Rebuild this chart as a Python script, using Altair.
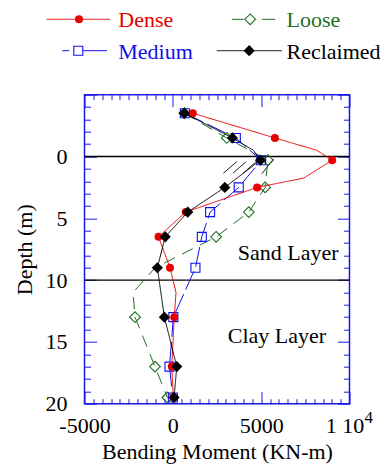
import altair as alt
import pandas as pd

# ---- data -------------------------------------------------------------
depth = [-3.5, -1.5, 0.3, 2.5, 4.5, 6.5, 9, 13, 17, 19.5]
dense = [1130, 5775, 9020, 4770, 730, -810, -160, 80, -60, 30]
medium = [680, 3565, 5000, 3730, 2110, 1640, 1280, 30, -190, 0]
loose = [650, 3055, 5380, 5225, 4300, 2450, None, -2140, -1010, -310]
reclaimed = [654, 3373, 4959, 2942, 845, -430, -876, -479, 223, 70]

# line-only bends between markers
dense_bend_depth = [-0.5, 1.75, 11]
dense_bend = [8150, 7400, 180]
medium_bend_depth = []
medium_bend = []
loose_bend_depth = [9, 11]
loose_bend = [-1000, -2250]
reclaimed_bend_depth = [-0.5]
reclaimed_bend = [4560]

layer_bounds = [0, 10]
layer_names = ["Sand Layer", "Clay Layer"]
layer_label_bm = [6530, 5890]
layer_label_depth = [8.4, 15.1]

hatch_bm = [2860, 3400, 3980, 5040]
hatch_bm2 = [3620, 4150, 4720, 5700]
hatch_depth = [1.35, 1.35, 1.35, 1.4]
hatch_depth2 = [0.42, 0.42, 0.42, 0.2]

x_label_ticks = [-5000, 0, 5000, 10000]
y_label_ticks = [0, 5, 10, 15, 20]
x_minor_ticks = list(range(-5000, 10001, 500))
y_minor_ticks = list(range(-5, 21))

# ---- styling ------------------------------------------------------------
FONT = "Liberation Serif"
BLUE_AX = "#1a1ae6"
W, H = 265, 309

styles = {
    "Dense": dict(vals=dense, bd=dense_bend_depth, bv=dense_bend, color="#e60000",
                  shape="circle", filled=True, size=64, dash=[1, 0]),
    "Medium": dict(vals=medium, bd=medium_bend_depth, bv=medium_bend, color="#1010ee",
                   shape="square", filled=False, size=81, dash=[20, 5]),
    "Loose": dict(vals=loose, bd=loose_bend_depth, bv=loose_bend, color="#1f6f1f",
                  shape="diamond", filled=False, size=115, dash=[12, 8]),
    "Reclaimed": dict(vals=reclaimed, bd=reclaimed_bend_depth, bv=reclaimed_bend, color="#000000",
                      shape="diamond", filled=True, size=125, dash=[1, 0]),
}

xs = alt.Scale(domain=[-5000, 10000], nice=False, zero=False)
ys = alt.Scale(domain=[-5, 20], nice=False, zero=False, reverse=True)

ax_x_main = alt.Axis(values=x_label_ticks,
                     labelExpr="datum.value == 10000 ? '1 10' : '' + datum.value",
                     labelOffset={"condition": {"test": "datum.value == 10000", "value": -5},
                                  "value": 0},
                     ticks=False, tickSize=0, domain=False, grid=False,
                     labelFont=FONT, labelFontSize=22, labelColor="black",
                     labelPadding=11.6, labelFlush=False, labelOverlap=False,
                     title="Bending Moment (KN-m)", titleFont=FONT, titleFontSize=22,
                     titleFontWeight="normal", titleColor="black",
                     titleBaseline="alphabetic", titleY=55)
ax_y_main = alt.Axis(values=y_label_ticks, ticks=False, tickSize=0, domain=False, grid=False,
                     labelFont=FONT, labelFontSize=22, labelColor="black",
                     labelPadding=17.5, labelAlign="right", labelBaseline="middle",
                     labelFlush=False, labelOverlap=False,
                     title="Depth (m)", titleFont=FONT, titleFontSize=22,
                     titleFontWeight="normal", titleColor="black",
                     titleBaseline="alphabetic", titleX=-52.8, titleAngle=270)

x_tick_size = {"condition": {"test": "datum.value % 5000 === 0", "value": 12}, "value": 5}
y_tick_size = {"condition": {"test": "datum.value % 5 === 0", "value": 12}, "value": 6}


def tick_axis(orient, offset, values, size):
    return alt.Axis(orient=orient, offset=offset, values=values, labels=False,
                    domain=False, grid=False, title=None, ticks=True,
                    tickColor=BLUE_AX, tickWidth=1, tickSize=size)


ax_x_bottom_in = tick_axis("top", -H, x_minor_ticks, x_tick_size)
ax_x_top_in = tick_axis("bottom", -H, x_minor_ticks, x_tick_size)
ax_y_left_in = tick_axis("right", -W, y_minor_ticks, y_tick_size)
ax_y_right_in = tick_axis("left", -W, y_minor_ticks, y_tick_size)

layers = []

# layer boundaries
df_bounds = pd.DataFrame({"depth": layer_bounds})
layers.append(alt.Chart(df_bounds).mark_rule(color="black", strokeWidth=1.3).encode(
    y=alt.Y("depth:Q", scale=ys, axis=None)))

# hatching
df_hatch = pd.DataFrame({"bm": hatch_bm, "bm2": hatch_bm2, "d": hatch_depth, "d2": hatch_depth2})
layers.append(alt.Chart(df_hatch).mark_rule(color="#222222", strokeWidth=1).encode(
    x=alt.X("bm:Q", scale=xs, axis=None), x2="bm2:Q",
    y=alt.Y("d:Q", scale=ys, axis=None), y2="d2:Q"))

axis_plan = {
    "Loose": ((ax_x_main, ax_y_main), (ax_x_bottom_in, ax_y_left_in)),
    "Medium": ((ax_x_top_in, ax_y_right_in), (None, None)),
}

for name in ["Loose", "Medium", "Dense", "Reclaimed"]:
    s = styles[name]
    mk = pd.DataFrame({"depth": depth, "bm": s["vals"]}).dropna()
    ln = pd.concat([mk, pd.DataFrame({"depth": s["bd"], "bm": s["bv"]})]).sort_values("depth")
    (lax, pax) = axis_plan.get(name, ((None, None), (None, None)))
    layers.append(alt.Chart(ln).mark_line(color=s["color"], strokeWidth=1,
                                          strokeDash=s["dash"]).encode(
        x=alt.X("bm:Q", scale=xs, axis=lax[0]),
        y=alt.Y("depth:Q", scale=ys, axis=lax[1]),
        order="depth:Q"))
    layers.append(alt.Chart(mk).mark_point(shape=s["shape"], filled=s["filled"], size=s["size"],
                                           color=s["color"], opacity=1, strokeWidth=1.1).encode(
        x=alt.X("bm:Q", scale=xs, axis=pax[0]),
        y=alt.Y("depth:Q", scale=ys, axis=pax[1])))

# layer names
df_txt = pd.DataFrame({"t": layer_names, "bm": layer_label_bm, "d": layer_label_depth})
layers.append(alt.Chart(df_txt).mark_text(font=FONT, fontSize=22, color="black",
                                          align="center", baseline="alphabetic").encode(
    x=alt.X("bm:Q", scale=xs, axis=None), y=alt.Y("d:Q", scale=ys, axis=None), text="t:N"))

one = pd.DataFrame({"a": [0]})

# exponent of the "1 10^4" tick label
layers.append(alt.Chart(one).mark_text(font=FONT, fontSize=17, color="black",
                                       align="left", baseline="alphabetic", text="4").encode(
    x=alt.value(280), y=alt.value(328.5)))

# legend (2 x 2, drawn in pixel space above the plot)
legend_items = [
    ("Dense", -37.8, 25.5, -5.5, -75.4, 33.8, [1, 0]),
    ("Medium", -22.2, 22.5, -6.2, -44.0, 33.8, [7, 14, 40, 1]),
    ("Loose", 147.3, 190.7, 165.7, -75.4, 202.0, [12, 18, 14, 1]),
    ("Reclaimed", 132.3, 197.3, 164.7, -44.0, 202.0, [1, 0]),
]
for name, x1, x2, xm, yc, xt, dash in legend_items:
    s = styles[name]
    layers.append(alt.Chart(one).mark_rule(color=s["color"], strokeWidth=1, strokeDash=dash).encode(
        x=alt.value(x1), x2=alt.value(x2), y=alt.value(yc)))
    layers.append(alt.Chart(one).mark_point(shape=s["shape"], filled=s["filled"], size=s["size"],
                                            color=s["color"], opacity=1, strokeWidth=1.1).encode(
        x=alt.value(xm), y=alt.value(yc)))
    layers.append(alt.Chart(one).mark_text(font=FONT, fontSize=22, color=s["color"],
                                           align="left", baseline="alphabetic", text=name).encode(
        x=alt.value(xt), y=alt.value(yc + 8.2)))

chart = alt.layer(*layers).resolve_axis(x="independent", y="independent").properties(
    width=W, height=H,
    padding={"left": 76.5, "top": 86.7, "right": 31, "bottom": 62},
    autosize=alt.AutoSizeParams(type="none"),
).configure_view(stroke=BLUE_AX, strokeWidth=1.5)

chart.save("out.html", embed_options={"renderer": "svg", "actions": False})
